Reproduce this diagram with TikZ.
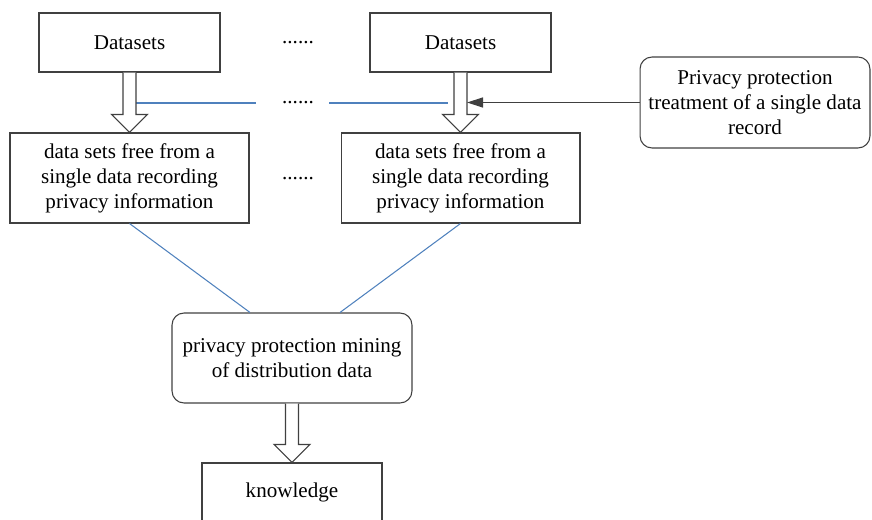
\documentclass[tikz,border=0pt]{standalone}
\usepackage{fontspec}
\setmainfont{Liberation Serif}
\usetikzlibrary{calc,arrows.meta}
\definecolor{lineblue}{RGB}{79,129,189}
\newcommand{\hollowarrow}[2]{%
\draw[fatline] ($(#1.south)+(-6.5,0)$) -- ($(#2.north)+(-6.5,-18)$) -- ($(#2.north)+(-18,-18)$) -- (#2.north)
 -- ($(#2.north)+(18,-18)$) -- ($(#2.north)+(6.5,-18)$) -- ($(#1.south)+(6.5,0)$);}
\begin{document}
\begin{tikzpicture}[x=0.02cm,y=-0.02cm,
	font=\fontsize{12pt}{14.2pt}\selectfont,
	plainbox/.style={draw=black!75,line width=0.6pt,align=center,inner sep=2pt},
	roundbox/.style={plainbox,rounded corners=0.24cm},
	fatline/.style={draw=black!75,line width=0.6pt,fill=white},
	blueline/.style={draw=lineblue,line width=0.6pt},
	pointer/.style={draw=black!75,line width=0.7pt,-{Triangle[length=0.32cm,width=0.2cm]}}]
\useasboundingbox (0,0) rectangle (872,520);
\node[plainbox,minimum width=3.62cm,minimum height=1.18cm] (ds1) at (129.5,42.5) {Datasets};
\node[plainbox,minimum width=3.62cm,minimum height=1.18cm] (ds2) at (460.5,42.5) {Datasets};
\node[plainbox,minimum width=4.78cm,minimum height=1.8cm] (free1) at (129.5,178) {data sets free from a\\single data recording\\privacy information};
\node[plainbox,minimum width=4.78cm,minimum height=1.8cm] (free2) at (460.5,178) {data sets free from a\\single data recording\\privacy information};
\node[roundbox,minimum width=4.6cm,minimum height=1.82cm] (treat) at (755,102.5) {Privacy protection\\treatment of a single data\\record};
\node[roundbox,minimum width=4.8cm,minimum height=1.8cm] (mine) at (292,358) {privacy protection mining\\of distribution data};
\node[plainbox,minimum width=3.6cm,minimum height=1.16cm] (know) at (292,492) {knowledge};
\foreach \y/\n in {43/dot1,103/dot2,179/dot3}
{
	\node[inner sep=0pt] (\n) at (298,\y) {......};
}
\draw[blueline] ($(ds1.south |- dot2)+(6.5,0)$) -- ($(dot2.west)+(-26,0)$);
\draw[blueline] ($(dot2.east)+(15,0)$) -- ($(ds2.south |- dot2)+(-12.5,0)$);
\hollowarrow{ds1}{free1}
\hollowarrow{ds2}{free2}
\hollowarrow{mine}{know}
\draw[pointer] (treat.west) -- ($(ds2.south |- treat.west)+(6.5,0)$);
\draw[blueline] (free1.south) -- ($(mine.north)+(-42,0)$);
\draw[blueline] (free2.south) -- ($(mine.north)+(48,0)$);
\end{tikzpicture}
\end{document}
